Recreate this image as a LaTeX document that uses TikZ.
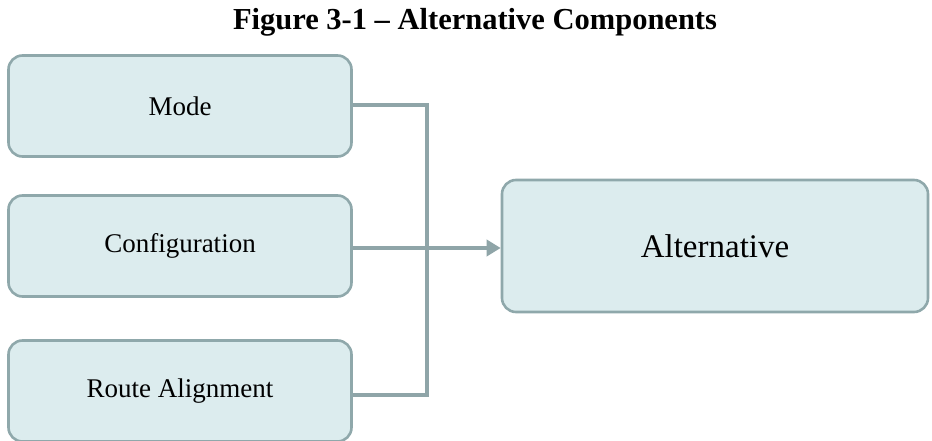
\documentclass[tikz,border=0pt]{standalone}
\usepackage{fontspec}
\setmainfont{Liberation Serif}
\usetikzlibrary{arrows.meta}
\definecolor{boxfill}{HTML}{DCECEE}
\definecolor{boxline}{HTML}{8FA8AB}
\definecolor{conn}{HTML}{8FA5A8}
\begin{document}
\begin{tikzpicture}[x=1pt,y=-1pt,
  compbox/.style={draw=boxline,fill=boxfill,line width=2.6pt,rounded corners=14pt,
    minimum width=343pt,minimum height=101pt,inner sep=0pt,font=\fontsize{27}{32}\selectfont},
  altbox/.style={compbox,minimum width=426pt,minimum height=132pt,font=\fontsize{33}{38}\selectfont},
  link/.style={draw=conn,line width=4.5pt},
  arr/.style={link,-{Triangle[length=14pt,width=16pt]}}]
\useasboundingbox (0,0) rectangle (932,441);
\node[font=\bfseries\fontsize{30.5}{34}\selectfont] (title) at (475,22) {Figure 3-1 – Alternative Components};
\node[compbox] (mode) at (180,106) {Mode};
\node[compbox] (conf) at (180,246) {Configuration};
\node[compbox] (route) at (180,391) {Route Alignment};
\node[altbox] (alt) at (715,246) {Alternative};
\draw[link] (mode.east |- 0,105) -| (427,395) -- (route.east |- 0,395);
\draw[arr] (conf.east |- 0,248) -- (alt.west |- 0,248);
\end{tikzpicture}
\end{document}
